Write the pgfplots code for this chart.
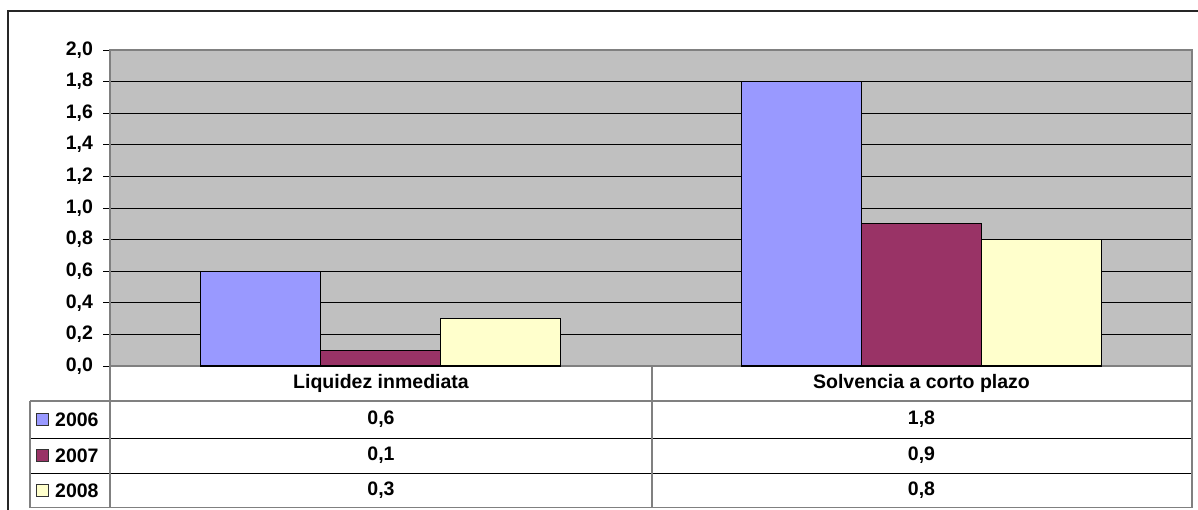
\documentclass[border=0pt]{standalone}
\usepackage{pgfplots}
\pgfplotsset{compat=1.18}
\usepackage{fontspec}
\setmainfont{Liberation Sans}
\definecolor{c06}{HTML}{9999FF}
\definecolor{c07}{HTML}{993366}
\definecolor{c08}{HTML}{FFFFCC}
\definecolor{plotgray}{HTML}{C0C0C0}
\definecolor{edgegray}{HTML}{808080}
\newcommand{\tf}{\fontsize{19.5}{22}\selectfont\bfseries}
\begin{document}
\begin{tikzpicture}[x=1pt,y=1pt]
\useasboundingbox (0,0) rectangle (1198,509);
\fill[white] (0,0) rectangle (1198,509);
\begin{axis}[
  at={(110pt,143pt)}, anchor=south west,
  scale only axis, width=1082pt, height=316pt,
  ybar=0pt, bar width=0.2218,
  xmin=-0.5, xmax=1.5, ymin=0, ymax=2,
  xtick=\empty,
  ytick={0,0.2,0.4,0.6,0.8,1.0,1.2,1.4,1.6,1.8,2.0},
  ymajorgrids, grid style={black, line width=0.9pt},
  axis background/.style={fill=plotgray},
  axis line style={edgegray, line width=1.5pt},
  ytick pos=left, tick align=outside, major tick length=7pt,
  ytick style={black, line width=0.9pt},
  yticklabel style={font=\tf, xshift=-6.5pt},
  /pgf/number format/.cd, fixed, fixed zerofill, precision=1, use comma, assume math mode=true,
]
\addplot[fill=c06, draw=black, line width=1.2pt] coordinates {(0,0.6) (1,1.8)};
\addplot[fill=c07, draw=black, line width=1.2pt] coordinates {(0,0.1) (1,0.9)};
\addplot[fill=c08, draw=black, line width=1.2pt] coordinates {(0,0.3) (1,0.8)};
\end{axis}
% outer chart border
\draw[black!85, line width=1.5pt] (8,-2) -- (8,498) -- (1200,498);
% data table
\draw[edgegray, line width=1.4pt] (30,108) -- (1192,108);
\draw[black, line width=1pt] (30,71) -- (1192,71);
\draw[black, line width=1pt] (30,36) -- (1192,36);
\draw[edgegray, line width=1.6pt] (30,1.5) -- (1192,1.5);
\draw[edgegray, line width=1.4pt] (30,1.5) -- (30,108);
\draw[edgegray, line width=1.4pt] (110,1.5) -- (110,143);
\draw[edgegray, line width=1.4pt] (652,1.5) -- (652,143);
\draw[edgegray, line width=1.4pt] (1192,1.5) -- (1192,143);
\node[font=\tf] at (381,125.5) {Liquidez inmediata};
\node[font=\tf] at (921.5,125.5) {Solvencia a corto plazo};
% legend keys and values
\draw[black!80, line width=0.8pt, fill=c06] (36,84) rectangle (48,96);
\draw[black!80, line width=0.8pt, fill=c07] (36,48) rectangle (48,60);
\draw[black!80, line width=0.8pt, fill=c08] (36,13) rectangle (48,25);
\node[font=\tf, anchor=west, inner sep=0pt] at (55,89.5) {2006};
\node[font=\tf, anchor=west, inner sep=0pt] at (55,53.5) {2007};
\node[font=\tf, anchor=west, inner sep=0pt] at (55,18.5) {2008};
\node[font=\tf] at (381,89.5) {0,6};
\node[font=\tf] at (921.5,89.5) {1,8};
\node[font=\tf] at (381,53.5) {0,1};
\node[font=\tf] at (921.5,53.5) {0,9};
\node[font=\tf] at (381,18.5) {0,3};
\node[font=\tf] at (921.5,18.5) {0,8};
\end{tikzpicture}
\end{document}
